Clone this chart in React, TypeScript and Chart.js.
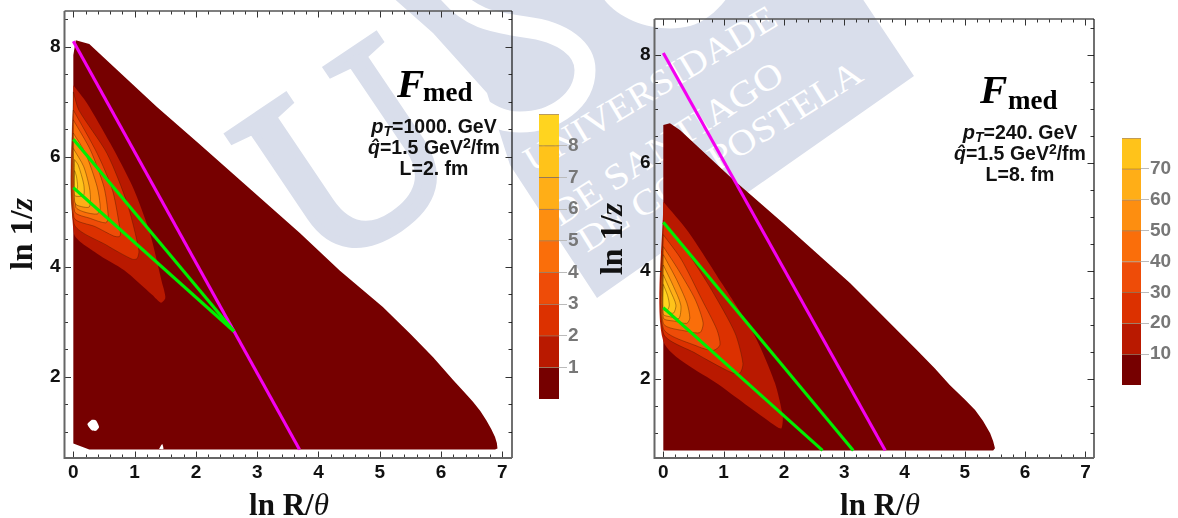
import React, { useEffect, useRef } from "react";
import { Chart, registerables } from "chart.js";

Chart.register(...registerables);

type P = [number, number];

const levelColors = ["#760000", "#B91900", "#DC3100", "#EE4C08", "#FA6E0A", "#FD8E10", "#FFAE17", "#FFC31A", "#FFD41F"];
const hexWhite = "#FFFFFF";
const magenta = "#F400F0";
const green = "#00EE00";

// Left panel: pT = 1000 GeV, L = 2 fm
const leftLevel0: P[] = [[0, 0.79], [0, 7.85], [0.04, 8.12], [0.26, 8.05], [1.36, 6.91], [2.07, 6.22], [3.7, 4.61], [4.35, 3.93], [5.05, 3.27], [5.5, 2.78], [5.87, 2.36], [6.2, 1.94], [6.38, 1.72], [6.52, 1.55], [6.64, 1.38], [6.74, 1.21], [6.82, 1.05], [6.88, 0.91], [6.91, 0.8], [6.92, 0.7], [6.88, 0.68], [0.26, 0.68]];
const leftLevel1: P[] = [[0, 7.3], [0.22, 6.98], [0.6, 6.25], [0.97, 5.45], [1.25, 4.61], [1.45, 3.7], [1.48, 3.58], [1.5, 3.43], [1.43, 3.35], [1.29, 3.49], [0.83, 3.94], [0.39, 4.24], [0.01, 4.61]];
const leftLevel2: P[] = [[0, 7.18], [0.09, 6.85], [0.55, 6.06], [0.88, 5.15], [1.07, 4.3], [1.04, 4.15], [0.96, 4.14], [0.55, 4.39], [0.01, 4.79]];
const leftLevel3: P[] = [[0, 6.85], [0.39, 6.06], [0.64, 5.39], [0.77, 4.61], [0.75, 4.55], [0.66, 4.56], [0.36, 4.73], [0.01, 4.9]];
const leftLevel4: P[] = [[0, 6.67], [0.28, 6.12], [0.5, 5.45], [0.57, 4.91], [0.53, 4.8], [0.28, 4.88], [0.02, 5.01]];
const leftLevel5: P[] = [[0, 6.43], [0.2, 6.06], [0.39, 5.45], [0.44, 5.06], [0.39, 4.96], [0.17, 5.0], [0.04, 5.09]];
const leftLevel6: P[] = [[0, 6.15], [0.17, 5.82], [0.27, 5.39], [0.26, 5.09], [0.06, 5.12], [0.02, 5.2]];
const leftLevel7: P[] = [[0.02, 5.95], [0.08, 5.85], [0.17, 5.5], [0.17, 5.3], [0.08, 5.28], [0.02, 5.3]];
const leftLevel8: P[] = [[0.02, 5.75], [0.05, 5.65], [0.07, 5.45], [0.04, 5.38], [0.02, 5.4]];
const leftHole: P[] = [[0.3, 1.22], [0.37, 1.21], [0.42, 1.09], [0.37, 1.02], [0.3, 1.03], [0.23, 1.14]];
const leftNotch: P[] = [[1.4, 0.69], [1.45, 0.78], [1.47, 0.69]];
const leftMagenta: P[] = [[0, 8.1], [3.69, 0.68]];
const leftGreenA: P[] = [[0, 6.32], [2.62, 2.83]];
const leftGreenB: P[] = [[0, 5.44], [2.62, 2.83]];

// Right panel: pT = 240 GeV, L = 8 fm
const rightLevel0: P[] = [[0, 0.68], [0, 6.7], [0.11, 6.73], [0.28, 6.6], [1.13, 5.72], [1.99, 4.88], [3.1, 3.77], [4.2, 2.54], [4.5, 2.2], [4.75, 1.89], [5.0, 1.62], [5.17, 1.43], [5.3, 1.23], [5.42, 1.0], [5.47, 0.85], [5.5, 0.72], [5.47, 0.68]];
const rightLevel1: P[] = [[0, 5.28], [0.41, 4.73], [0.97, 3.77], [1.52, 2.79], [1.85, 1.93], [1.98, 1.31], [1.96, 1.09], [1.88, 1.12], [0.97, 1.86], [0, 2.7]];
const rightLevel2: P[] = [[0, 4.94], [0.41, 4.33], [0.8, 3.65], [1.19, 2.85], [1.32, 2.29], [1.27, 2.11], [1.13, 2.12], [0.53, 2.48], [0, 2.85]];
const rightLevel3: P[] = [[0, 4.67], [0.3, 4.21], [0.64, 3.47], [0.89, 2.91], [0.94, 2.63], [0.83, 2.53], [0.58, 2.6], [0, 2.94]];
const rightLevel4: P[] = [[0, 4.45], [0.25, 4.02], [0.53, 3.47], [0.66, 3.04], [0.61, 2.86], [0.41, 2.88], [0, 3.03]];
const rightLevel5: P[] = [[0, 4.3], [0.22, 3.84], [0.39, 3.41], [0.44, 3.13], [0.39, 3.03], [0.19, 3.07], [0, 3.13]];
const rightLevel6: P[] = [[0, 4.11], [0.17, 3.71], [0.29, 3.37], [0.26, 3.12], [0.12, 3.15], [0, 3.2]];
const rightLevel7: P[] = [[0, 3.93], [0.11, 3.65], [0.21, 3.37], [0.17, 3.22], [0.08, 3.24], [0, 3.3]];
const rightLevel8: P[] = [[0, 3.75], [0.07, 3.55], [0.1, 3.37], [0.07, 3.28], [0, 3.28]];
const rightMagenta: P[] = [[0, 8.03], [3.68, 0.68]];
const rightGreenA: P[] = [[0, 4.9], [3.15, 0.68]];
const rightGreenB: P[] = [[0, 3.32], [2.64, 0.68]];

const leftBands = [leftLevel0, leftLevel1, leftLevel2, leftLevel3, leftLevel4, leftLevel5, leftLevel6, leftLevel7, leftLevel8];
const rightBands = [rightLevel0, rightLevel1, rightLevel2, rightLevel3, rightLevel4, rightLevel5, rightLevel6, rightLevel7, rightLevel8];

const leftBarTicks = [1, 2, 3, 4, 5, 6, 7, 8];
const rightBarTicks = [10, 20, 30, 40, 50, 60, 70];
const leftBarSteps = [1, 1, 1, 1, 1, 1, 1, 1, 1];
const rightBarSteps = [10, 10, 10, 10, 10, 10, 10, 10, 10];

const SANS = '"Liberation Sans", Arial, sans-serif';
const SERIF = '"Liberation Serif", "Times New Roman", serif';

const toXY = (pts: P[], close = false) => {
  const d = pts.map(([x, y]) => ({ x, y }));
  if (close) d.push({ ...d[0] });
  return d;
};

const polyDataset = (pts: P[], color: string, order: number, contour: boolean, tension: number) => ({
  data: toXY(pts, true),
  showLine: true,
  fill: "shape",
  backgroundColor: color,
  borderColor: contour ? "rgba(70,25,0,0.5)" : color,
  borderWidth: contour ? 0.8 : 0,
  pointRadius: 0,
  tension,
  order,
});

const lineDataset = (pts: P[], color: string, order: number) => ({
  data: toXY(pts),
  showLine: true,
  fill: false,
  borderColor: color,
  backgroundColor: color,
  borderWidth: 3.1,
  pointRadius: 0,
  tension: 0,
  order,
});

const framePlugin = {
  id: "mmaFrame",
  afterDraw(chart: any) {
    const { ctx, chartArea: a, scales } = chart;
    const near = (v: number, m: number) => Math.abs(v / m - Math.round(v / m)) < 1e-6;
    ctx.save();
    ctx.strokeStyle = "#333";
    ctx.lineWidth = 1;
    ctx.beginPath();
    scales.x.ticks.forEach((t: any) => {
      const p = Math.round(scales.x.getPixelForValue(t.value)) + 0.5;
      const len = near(t.value, 1) ? 6.5 : 3.5;
      ctx.moveTo(p, a.bottom);
      ctx.lineTo(p, a.bottom - len);
      ctx.moveTo(p, a.top);
      ctx.lineTo(p, a.top + len);
    });
    scales.y.ticks.forEach((t: any) => {
      const p = Math.round(scales.y.getPixelForValue(t.value)) + 0.5;
      const len = near(t.value, 2) ? 6.5 : 3.5;
      ctx.moveTo(a.left, p);
      ctx.lineTo(a.left + len, p);
      ctx.moveTo(a.right, p);
      ctx.lineTo(a.right - len, p);
    });
    ctx.stroke();
    ctx.lineWidth = 1.5;
    ctx.strokeStyle = "#555";
    ctx.beginPath();
    ctx.moveTo(a.left, a.top);
    ctx.lineTo(a.right, a.top);
    ctx.stroke();
    ctx.lineWidth = 1.2;
    ctx.strokeStyle = "#111";
    ctx.beginPath();
    ctx.moveTo(a.right, a.top);
    ctx.lineTo(a.right, a.bottom);
    ctx.stroke();
    ctx.lineWidth = 2;
    ctx.strokeStyle = "#666";
    ctx.beginPath();
    ctx.moveTo(a.left, a.top);
    ctx.lineTo(a.left, a.bottom);
    ctx.lineTo(a.right, a.bottom);
    ctx.stroke();
    ctx.restore();
  },
};

function ContourPanel(props: {
  left: number; top: number; width: number; height: number;
  xMin: number; xMax: number; yMin: number; yMax: number;
  axisLeft: number; axisBottom: number; padRight: number; padTop: number;
  bands: P[][]; whites: P[][]; magentaLine: P[]; greens: P[][];
}) {
  const ref = useRef<HTMLCanvasElement>(null);
  useEffect(() => {
    const datasets: any[] = [];
    props.bands.forEach((b, i) => datasets.push(polyDataset(b, levelColors[i], 100 - i, i >= 2, i >= 1 ? 0.25 : 0)));
    props.whites.forEach((w) => datasets.push(polyDataset(w, hexWhite, 50, false, 0.2)));
    datasets.push(lineDataset(props.magentaLine, magenta, 3));
    props.greens.forEach((g, i) => datasets.push(lineDataset(g, green, 2 - i)));
    const chart = new Chart(ref.current as HTMLCanvasElement, {
      type: "scatter",
      data: { datasets },
      plugins: [framePlugin],
      options: {
        animation: false,
        responsive: false,
        layout: { padding: { right: props.padRight, top: props.padTop, left: 0, bottom: 0 } },
        plugins: { legend: { display: false }, tooltip: { enabled: false } },
        scales: {
          x: {
            type: "linear", min: props.xMin, max: props.xMax,
            afterFit: (s: any) => { s.height = props.axisBottom; s.paddingLeft = 0; s.paddingRight = 0; },
            border: { display: false },
            grid: { display: false, drawTicks: false },
            ticks: {
              stepSize: 0.2, includeBounds: false, autoSkip: false, maxRotation: 0, padding: 3,
              color: "#111", font: { family: SANS, weight: "bold", size: 19 },
              callback: (v: any) => (Math.abs(v - Math.round(v)) < 1e-6 ? String(Math.round(v)) : ""),
            },
          },
          y: {
            type: "linear", min: props.yMin, max: props.yMax,
            afterFit: (s: any) => { s.width = props.axisLeft; s.paddingTop = 0; s.paddingBottom = 0; },
            border: { display: false },
            grid: { display: false, drawTicks: false },
            ticks: {
              stepSize: 0.5, includeBounds: false, autoSkip: false, padding: 4,
              color: "#111", font: { family: SANS, weight: "bold", size: 19 },
              callback: (v: any) => (Math.abs(v / 2 - Math.round(v / 2)) < 1e-6 ? String(Math.round(v)) : ""),
            },
          },
        },
      } as any,
    } as any);
    return () => chart.destroy();
  }, []);
  return <canvas ref={ref} width={props.width} height={props.height} style={{ position: "absolute", left: props.left, top: props.top, width: props.width, height: props.height }} />;
}

function ColorBar(props: { left: number; top: number; width: number; height: number; barWidth: number; steps: number[]; labels: number[]; max: number }) {
  const ref = useRef<HTMLCanvasElement>(null);
  useEffect(() => {
    const chart = new Chart(ref.current as HTMLCanvasElement, {
      type: "bar",
      data: {
        labels: ["F"],
        datasets: props.steps.map((s, i) => ({
          data: [s],
          backgroundColor: levelColors[i],
          borderColor: "rgba(90,40,0,0.55)",
          borderWidth: { top: 1 },
          borderSkipped: false,
          barPercentage: 1,
          categoryPercentage: 1,
          stack: "s",
        })),
      },
      options: {
        animation: false,
        responsive: false,
        plugins: { legend: { display: false }, tooltip: { enabled: false } },
        layout: { padding: 0 },
        scales: {
          x: { display: false, stacked: true },
          y: {
            stacked: true, position: "right", min: 0, max: props.max,
            afterFit: (s: any) => { s.width = props.width - props.barWidth; s.paddingTop = 0; s.paddingBottom = 0; },
            border: { display: false },
            grid: { drawOnChartArea: false, tickLength: 8, tickColor: "#bbb", tickWidth: 1 },
            afterBuildTicks: (s: any) => { s.ticks = props.labels.map((value) => ({ value })); },
            ticks: { padding: 1, autoSkip: false, color: "#777", font: { family: SANS, weight: "bold", size: 19 } },
          },
        },
      } as any,
    } as any);
    return () => chart.destroy();
  }, []);
  return <canvas ref={ref} width={props.width} height={props.height} style={{ position: "absolute", left: props.left, top: props.top, width: props.width, height: props.height }} />;
}

const WM = "#D9DEEB";

function Watermark() {
  return (
    <svg width={1178} height={518} style={{ position: "absolute", left: 0, top: 0 }}>
      <polygon fill={WM} points="390,-5 433,33 487,93 510,165 597,298 914,76 860,-5" />
      <path d="M448,-8 C470,18 490,22 525,27 C565,32 585,50 585,70 C585,100 555,122 520,122 C505,122 495,118 480,108" fill="none" stroke="#fff" strokeWidth={21} />
      <path d="M603,-2 C620,22 660,34 690,26 C705,22 718,10 727,-2 Z" fill="#fff" />
      <text transform="translate(224,137) rotate(-34)" dy={171} fontFamily={SERIF} fontSize={260} fill={WM} stroke={WM} strokeWidth={8}>U</text>
      <g fontFamily={SERIF} fontSize={36} fill="#fff">
        <text transform="translate(533,173) rotate(-31)" textLength={288} lengthAdjust="spacingAndGlyphs">UNIVERSIDADE</text>
        <text transform="translate(560,227) rotate(-33)" textLength={270} lengthAdjust="spacingAndGlyphs">DE SANTIAGO</text>
        <text transform="translate(587,253) rotate(-32)" textLength={328} lengthAdjust="spacingAndGlyphs">DE COMPOSTELA</text>
      </g>
    </svg>
  );
}

function Notes(props: { fx: number; fy: number; mx: number; my: number; cx: number; y0: number; pT: string; tx: number; yt: number; bx: number; by: number }) {
  const s = { fontFamily: SANS, fontWeight: 700, fontSize: 19.5, fill: "#111", textAnchor: "middle" as const };
  return (
    <>
      <text x={props.fx} y={props.fy} fontFamily={SERIF} fontWeight={700} fontStyle="italic" fontSize={41} fill="#000">F</text>
      <text x={props.mx} y={props.my} fontFamily={SERIF} fontWeight={700} fontSize={27} fill="#000">med</text>
      <text x={props.cx} y={props.y0} {...s}><tspan fontStyle="italic" fontSize={20}>p</tspan><tspan fontStyle="italic" fontSize={14} dy={3}>T</tspan><tspan dy={-3}>={props.pT}</tspan></text>
      <text x={props.cx} y={props.y0 + 21} {...s}><tspan fontStyle="italic">{"q\u0302"}</tspan>=1.5 GeV<tspan fontSize={14} dy={-6}>2</tspan><tspan dy={6}>/fm</tspan></text>
      <text x={props.cx} y={props.y0 + 42} {...s}>{props.pT === "1000. GeV" ? "L=2. fm" : "L=8. fm"}</text>
      <text transform={`translate(${props.tx},${props.yt}) rotate(-90)`} fontFamily={SERIF} fontWeight={700} fontSize={32} textAnchor="middle" fill="#111">ln 1/<tspan fontStyle="italic">z</tspan></text>
      <text x={props.bx} y={props.by} fontFamily={SERIF} fontWeight={700} fontSize={31} textAnchor="middle" fill="#111">ln R/<tspan fontStyle="italic" fontWeight={400}>{"\u03B8"}</tspan></text>
    </>
  );
}

export default function App() {
  return (
    <div style={{ position: "fixed", left: 0, top: 0, width: 1178, height: 518, overflow: "hidden", background: "#fff" }}>
      <Watermark />
      <ContourPanel left={0} top={0} width={530} height={518} xMin={-0.144} xMax={7.157} yMin={0.527} yMax={8.65}
        axisLeft={64.5} axisBottom={60} padRight={18} padTop={11}
        bands={leftBands} whites={[leftHole, leftNotch]} magentaLine={leftMagenta} greens={[leftGreenA, leftGreenB]} />
      <ContourPanel left={590} top={0} width={520} height={518} xMin={-0.146} xMax={7.142} yMin={0.54} yMax={8.66}
        axisLeft={64.5} axisBottom={60} padRight={16} padTop={19}
        bands={rightBands} whites={[]} magentaLine={rightMagenta} greens={[rightGreenA, rightGreenB]} />
      <div style={{ position: "absolute", left: 0, top: 0 }}>
        <ColorBar left={539} top={114} width={60} height={285} barWidth={20} steps={leftBarSteps} labels={leftBarTicks} max={9} />
        <ColorBar left={1122} top={138} width={56} height={247} barWidth={19} steps={rightBarSteps} labels={rightBarTicks} max={80} />
      </div>
      <svg width={1178} height={518} style={{ position: "absolute", left: 0, top: 0, pointerEvents: "none" }}>
        <Notes fx={397} fy={97} mx={423} my={101} cx={434} y0={133} pT="1000. GeV" tx={32} yt={234} bx={289} by={515} />
        <Notes fx={980} fy={103} mx={1008} my={109} cx={1020} y0={139} pT="240. GeV" tx={622} yt={239} bx={880} by={515} />
      </svg>
    </div>
  );
}
